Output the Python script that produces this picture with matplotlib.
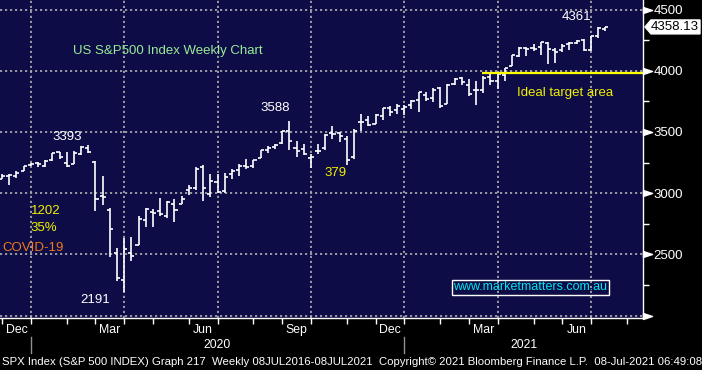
import numpy as np
import pandas as pd
import matplotlib
matplotlib.use("Agg")
import matplotlib.pyplot as plt
import matplotlib.dates as mdates
from matplotlib.collections import LineCollection
from matplotlib.patches import Polygon

# weekly bars (week ending Friday), SPX
weeks = pd.date_range("2019-11-29", "2021-07-09", freq="W-FRI")
opens = [3117, 3143, 3141, 3183, 3227, 3247, 3226, 3271, 3334, 3248, 3235, 3318, 3370,
         3257, 2974, 2864, 2509, 2290, 2515, 2579, 2782, 2845, 2854, 2815, 2915, 2914,
         3025, 3039, 3213, 2993, 3094, 3018, 3155, 3191, 3224, 3219, 3289, 3356, 3377,
         3411, 3508, 3370, 3364, 3285, 3342, 3368, 3488, 3493, 3441, 3296, 3584, 3600,
         3566, 3634, 3694, 3676, 3684, 3723, 3764, 3803, 3781, 3856, 3732, 3891, 3939,
         3886, 3842, 3844, 3949, 3916, 3963, 4035, 4124, 4185, 4185, 4191, 4229, 4169,
         4169, 4216, 4229, 4248, 4173, 4285, 4344]
highs = [3154, 3158, 3182, 3226, 3247, 3258, 3268, 3330, 3337, 3333, 3347, 3385, 3393,
         3260, 3137, 2882, 2553, 2637, 2641, 2818, 2880, 2868, 2965, 2934, 2955, 2981,
         3068, 3211, 3233, 3155, 3154, 3165, 3198, 3238, 3280, 3273, 3352, 3388, 3399,
         3509, 3588, 3425, 3402, 3320, 3398, 3482, 3550, 3502, 3464, 3521, 3646, 3628,
         3645, 3700, 3713, 3726, 3723, 3760, 3827, 3823, 3861, 3871, 3888, 3937, 3950,
         3929, 3915, 3960, 3983, 3978, 4020, 4129, 4191, 4195, 4219, 4238, 4238, 4187,
         4218, 4234, 4250, 4262, 4286, 4356, 4361]
lows = [3114, 3070, 3124, 3183, 3222, 3213, 3213, 3263, 3281, 3214, 3235, 3315, 3328,
        2855, 2902, 2479, 2280, 2192, 2448, 2576, 2725, 2728, 2815, 2797, 2767, 2910,
        2989, 3026, 2937, 2966, 3004, 2999, 3115, 3142, 3201, 3209, 3284, 3329, 3363,
        3406, 3349, 3293, 3311, 3209, 3323, 3354, 3440, 3420, 3234, 3280, 3512, 3546,
        3566, 3594, 3633, 3647, 3636, 3691, 3662, 3750, 3749, 3694, 3726, 3885, 3884,
        3794, 3723, 3819, 3887, 3853, 3917, 4035, 4111, 4118, 4165, 4128, 4057, 4062,
        4155, 4168, 4217, 4165, 4165, 4271, 4328]
closes = [3141, 3146, 3169, 3221, 3240, 3235, 3265, 3330, 3295, 3226, 3328, 3380, 3338,
          2954, 2972, 2711, 2305, 2541, 2489, 2790, 2875, 2837, 2831, 2930, 2864, 2955,
          3044, 3194, 3041, 3098, 3009, 3130, 3185, 3225, 3216, 3271, 3351, 3373, 3397,
          3508, 3427, 3341, 3319, 3298, 3348, 3477, 3484, 3465, 3270, 3510, 3585, 3558,
          3638, 3699, 3663, 3709, 3703, 3756, 3825, 3768, 3841, 3714, 3887, 3934, 3907,
          3811, 3842, 3943, 3913, 3975, 4020, 4129, 4185, 4180, 4181, 4233, 4174, 4156,
          4204, 4230, 4247, 4166, 4281, 4352, 4358]
last_price = 4358.13
target_level = 3980
price_levels = [2000, 2500, 3000, 3500, 4000, 4500]
month_abbr = {12: "Dec", 3: "Mar", 6: "Jun", 9: "Sep"}

BG = "#0e0c46"
FONT = ["Liberation Sans", "DejaVu Sans"]
plt.rcParams["font.family"] = FONT

fig = plt.figure(figsize=(7.02, 3.70), dpi=100, facecolor="black")
ax = fig.add_axes([0, 52 / 370, 643 / 702, 318 / 370])
ax.set_facecolor(BG)

xlim = (mdates.date2num(pd.Timestamp("2019-11-27")),
        mdates.date2num(pd.Timestamp("2021-08-14 16:00")))
ax.set_xlim(*xlim)
ax.set_ylim(1981, 4578)

# calendar: last weekly bar of each month
cal = pd.date_range("2019-11-29", "2021-08-13", freq="W-FRI")
month_ends = [cal[i] for i in range(len(cal) - 1) if cal[i + 1].month != cal[i].month]
me_num = mdates.date2num(month_ends)
quarter_ends = [mdates.date2num(d) for d in month_ends if d.month in month_abbr]

# grid
grid_kw = dict(color="#b0b0b0", lw=1.2, linestyle=(0, (1.3, 1.7)), zorder=1)
for q in quarter_ends:
    ax.axvline(q, **grid_kw)
for p in price_levels:
    ax.axhline(p, **grid_kw)

# OHLC bars
x = mdates.date2num(weeks)
hw = 3.0
segs = []
for xi, o, h, l, c in zip(x, opens, highs, lows, closes):
    segs.append([(xi, l), (xi, h)])
    segs.append([(xi - hw, o), (xi, o)])
    segs.append([(xi, c), (xi + hw, c)])
ax.add_collection(LineCollection(segs, colors="white", linewidths=1.2, zorder=3))

# target line
ax.hlines(target_level, mdates.date2num(pd.Timestamp("2021-03-11")), xlim[1],
          colors="#ffff00", lw=1.6, zorder=4)

# spines
for s in ["top", "left"]:
    ax.spines[s].set_visible(False)
for s in ["right", "bottom"]:
    ax.spines[s].set_color("white")
    ax.spines[s].set_linewidth(1.0)

# y axis on right
ax.yaxis.tick_right()
ax.set_yticks(price_levels)
ax.set_yticklabels([""] + [str(p) for p in price_levels[1:]])
ax.set_yticks([p + 250 for p in price_levels[:-1]], minor=True)
ax.tick_params(axis="y", which="major", length=0, pad=7.5, labelcolor="white",
               labelsize=9.5)
ax.tick_params(axis="y", which="minor", length=4, width=1, color="white", direction="out")
arrow = [(0, 0.33), (1, 0), (0, -0.33), (0, 0.33)]
ax.plot([1.0] * len(price_levels), price_levels, ls="none", marker=arrow, ms=13,
        color="white", mec="white", transform=ax.get_yaxis_transform(), clip_on=False,
        zorder=5)

# x axis: month ticks, labels in mid-month
ax.set_xticks(me_num)
ax.set_xticklabels([""] * len(me_num))
mids, mlabels = [], []
for i in range(1, len(month_ends)):
    if month_ends[i].month in month_abbr:
        mids.append((me_num[i - 1] + me_num[i]) / 2)
        mlabels.append(month_abbr[month_ends[i].month])
ax.set_xticks(mids, minor=True)
ax.set_xticklabels(mlabels, minor=True)
ax.tick_params(axis="x", which="major", length=4, width=1, color="white", direction="out")
ax.tick_params(axis="x", which="minor", length=0, pad=4, labelcolor="white", labelsize=8.8)

# year labels and separators
dec_ends = [mdates.date2num(d) for d in month_ends if d.month == 12]
trans = ax.get_xaxis_transform()
ax.text((dec_ends[0] + dec_ends[1]) / 2, -27 / 318, "2020", color="white", fontsize=8.8,
        ha="center", va="center", transform=trans)
ax.text((dec_ends[1] + xlim[1]) / 2, -27 / 318, "2021", color="white", fontsize=8.8,
        ha="center", va="center", transform=trans)
for d in dec_ends:
    ax.plot([d, d], [-19 / 318, -35 / 318], color="#909090", lw=1, transform=trans,
            clip_on=False)

# annotations (axes fraction from pixel positions)
def put(px, py, s, color, size=9.5, ha="center", **kw):
    return ax.text(px / 643, 1 - py / 318, s, color=color, fontsize=size, ha=ha,
                   va="center", transform=ax.transAxes, zorder=6, **kw)

put(168, 51, "US S&P500 Index Weekly Chart", "#98ec98")
put(67, 137, "3393", "white")
put(275, 108, "3588", "white")
put(95, 300, "2191", "white")
put(46, 211, "1202", "#f0f000")
put(44, 228, "35%", "#f0f000")
put(2, 248, "COVID-19", "#f07818", ha="left")
put(336, 173, "379", "#f0f000")
put(576, 17, "4361", "white")
put(565, 93, "Ideal target area", "#f0f000")
put(530, 287, "www.marketmatters.com.au", "#00e5ee", size=9.0,
    bbox=dict(boxstyle="square,pad=0.12", fc="none", ec="white", lw=1))

# last price tag
ytrans = ax.get_yaxis_transform()
d = 57
tag = Polygon([(645 / 643, last_price), (651 / 643, last_price + d),
               (700 / 643, last_price + d), (700 / 643, last_price - d),
               (651 / 643, last_price - d)], closed=True, fc="white", ec="white",
              transform=ytrans, clip_on=False, zorder=6)
ax.add_patch(tag)
ax.text(675 / 643, last_price, f"{last_price:.2f}", color="black", fontsize=9.5,
        ha="center", va="center", transform=ytrans, zorder=7)

# footer
footer = fig.text(2 / 702, 1 - 362 / 370,
                  "SPX Index (S&P 500 INDEX) Graph 217  Weekly 08JUL2016-08JUL2021  "
                  "Copyright\u00a9 2021 Bloomberg Finance L.P.  08-Jul-2021 06:49:08",
                  color="white", fontsize=8.5, ha="left", va="center")
fig.canvas.draw()
w = footer.get_window_extent().width
footer.set_fontsize(8.5 * 697 / w)

fig.savefig("out.png", dpi=100, facecolor="black")
